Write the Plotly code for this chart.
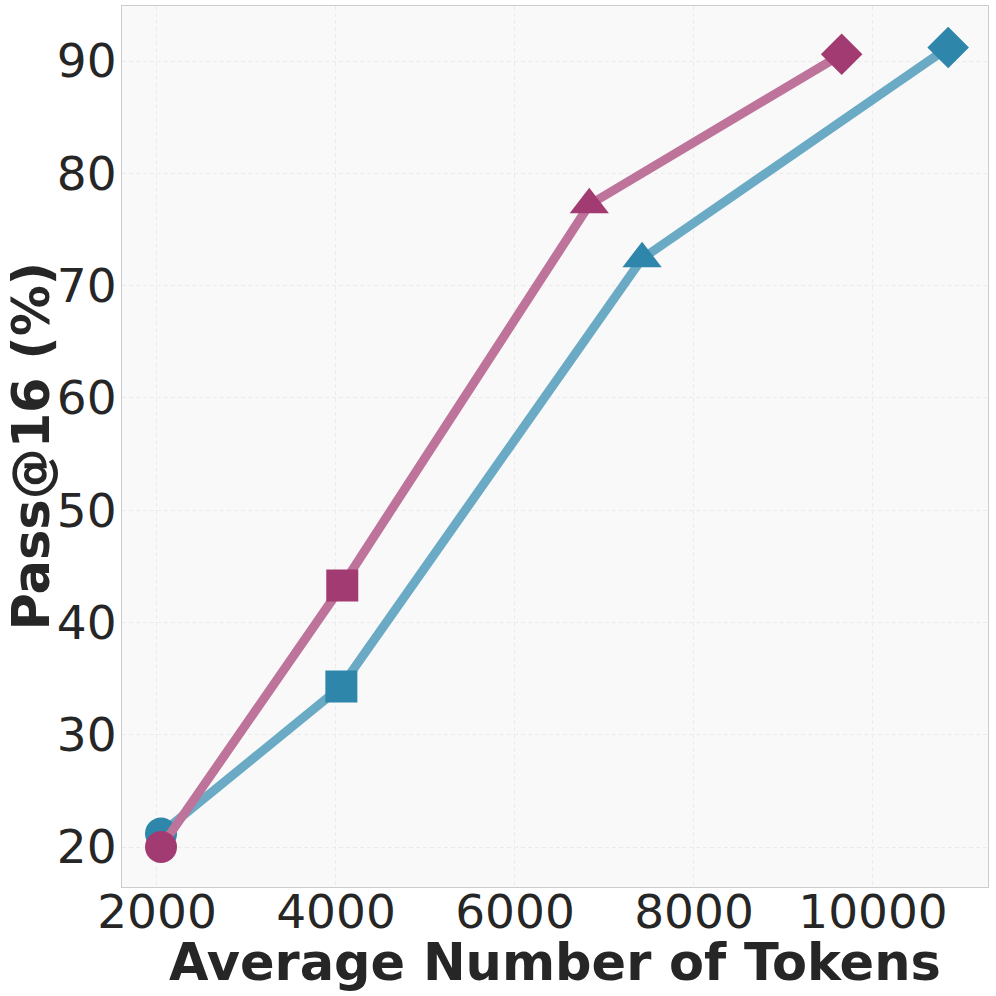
import plotly.graph_objects as go

# Data
tokens_pink = [2045, 4070, 6830, 9650]
pass_pink = [20.0, 43.3, 77.2, 90.6]
tokens_blue = [2045, 4060, 7420, 10840]
pass_blue = [21.2, 34.3, 72.4, 91.2]
symbols = ["circle", "square", "triangle-up", "diamond"]
x_ticks = [2000, 4000, 6000, 8000, 10000]
y_ticks = [20, 30, 40, 50, 60, 70, 80, 90]

BLUE = "#2e86ab"
PINK = "#a23b72"
BLUE_LINE = "#6aaac5"
PINK_LINE = "#be739a"
sizes = [32, 32, 34, 32]

fig = go.Figure()
for xs, ys, c, lc in [(tokens_blue, pass_blue, BLUE, BLUE_LINE),
                      (tokens_pink, pass_pink, PINK, PINK_LINE)]:
    fig.add_trace(go.Scatter(
        x=xs, y=ys, mode="lines",
        line=dict(color=lc, width=9), showlegend=False, hoverinfo="skip",
    ))
    fig.add_trace(go.Scatter(
        x=xs, y=ys, mode="markers",
        marker=dict(color=c, size=sizes, symbol=symbols, opacity=1, line=dict(width=0)),
        showlegend=False,
    ))

axis_common = dict(
    showgrid=True, gridcolor="#ebebeb", griddash="4px,3px", gridwidth=1,
    showline=True, linecolor="#cccccc", linewidth=1, mirror=True,
    zeroline=False, ticks="", automargin=False,
    tickfont=dict(family="DejaVu Sans", size=47, color="#262626"),
)

W, H = 996, 996
ML, MR, MT, MB = 122, 8, 6, 109
plot_w = W - ML - MR
plot_h = H - MT - MB

fig.update_layout(
    width=W, height=H,
    margin=dict(l=ML, r=MR, t=MT, b=MB),
    paper_bgcolor="white", plot_bgcolor="#f9f9f9",
    xaxis=dict(
        range=[1609, 11285], tickvals=x_ticks, ticktext=[str(v) for v in x_ticks],
        ticklabelstandoff=-16,
        **axis_common,
    ),
    yaxis=dict(
        range=[16.44, 94.9], tickvals=y_ticks, ticktext=[str(v) for v in y_ticks],
        ticklabelstandoff=-5,
        **axis_common,
    ),
    annotations=[
        dict(text="<b>Average Number of Tokens</b>", x=0.5, xref="paper",
             y=(H - MB - 963) / plot_h, yref="paper", showarrow=False,
             xanchor="center", yanchor="middle",
             font=dict(family="DejaVu Sans", size=51, color="#262626")),
        dict(text="<b>Pass@16 (%)</b>", x=(31 - ML) / plot_w, xref="paper",
             y=0.5, yref="paper", textangle=-90, showarrow=False,
             xanchor="center", yanchor="middle",
             font=dict(family="DejaVu Sans", size=51, color="#262626")),
    ],
)

fig.write_html(
    "out.html",
    config={"displayModeBar": False},
    post_script="document.body.style.margin='0';document.body.style.padding='0';",
)
